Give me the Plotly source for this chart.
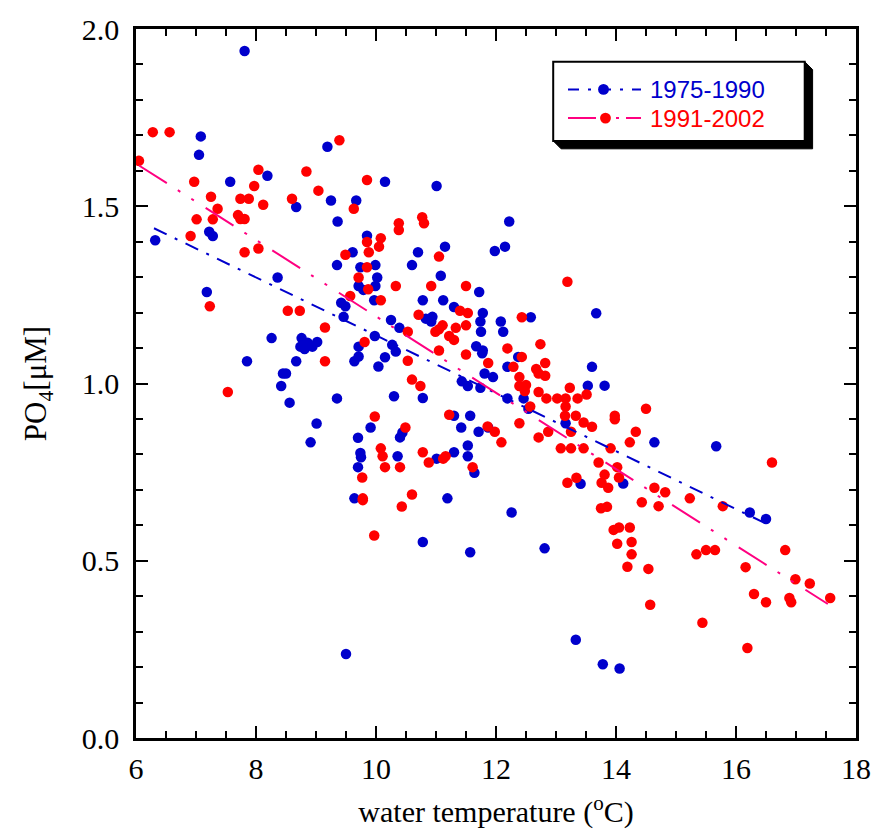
import plotly.graph_objects as go

# Water temperature (degC) and phosphate (uM), 1975-1990
temp_7590 = [7.81, 7.08, 7.05, 9.19, 8.19, 7.57, 10.15, 11.01, 8.67, 9.25, 9.67, 9.36, 7.22, 7.28, 6.32,
             9.85, 9.61, 11.15, 10.70, 10.60, 9.35, 9.74, 9.99, 8.36, 10.02, 9.71, 9.79, 9.99, 9.97, 11.72,
             11.08, 10.78, 11.12, 11.30, 11.78, 7.18, 9.42, 9.49, 9.46, 10.25, 10.94, 10.83, 10.92, 12.22,
             11.98, 12.15, 11.74, 11.75, 12.08, 12.12, 12.58, 13.67, 10.39, 10.33, 11.67, 11.78, 11.77,
             12.37, 11.81, 11.95, 12.19, 13.60, 11.43, 11.53, 11.74, 13.53, 13.81, 12.19, 12.46, 12.54,
             11.30, 11.57, 9.98, 10.27, 10.15, 10.04, 10.30, 10.78, 13.16, 13.41, 12.26, 11.71, 11.87,
             11.42, 11.53, 11.53, 11.64, 11.30, 11.01, 10.36, 9.91, 10.40, 10.44, 11.19, 9.64, 8.26, 8.76,
             8.86, 8.74, 8.81, 8.94, 9.02, 9.71, 9.71, 9.64, 7.85, 8.67, 8.45, 8.50, 8.42, 8.56, 9.35, 9.01,
             8.91, 9.70, 9.74, 9.75, 9.70, 9.50, 10.78, 11.57, 12.81, 13.33, 13.78, 14.06, 14.12, 14.64,
             15.67, 16.23, 16.50]
po4_7590 = [1.938, 1.697, 1.645, 1.668, 1.586, 1.569, 1.569, 1.557, 1.498, 1.516, 1.516, 1.457, 1.428, 1.416,
            1.404, 1.417, 1.370, 1.386, 1.370, 1.334, 1.334, 1.328, 1.334, 1.299, 1.299, 1.275, 1.264, 1.275,
            1.235, 1.258, 1.304, 1.235, 1.235, 1.216, 1.199, 1.258, 1.228, 1.218, 1.188, 1.179, 1.188, 1.183,
            1.175, 1.457, 1.374, 1.386, 1.175, 1.146, 1.175, 1.146, 1.187, 1.198, 1.157, 1.090, 1.105, 1.093,
            1.085, 1.075, 1.028, 1.018, 1.047, 1.047, 1.006, 0.993, 0.988, 0.994, 0.994, 0.958, 0.958, 0.929,
            0.909, 0.909, 1.134, 1.109, 1.074, 1.048, 0.964, 0.959, 0.888, 0.717, 0.636, 0.864, 0.876, 0.876,
            0.825, 0.795, 0.748, 0.806, 0.788, 0.795, 0.876, 0.848, 0.862, 0.676, 0.676, 1.128, 1.128, 1.115,
            1.104, 1.097, 1.104, 1.117, 1.104, 1.076, 1.063, 1.063, 1.063, 1.028, 1.028, 0.993, 0.946, 0.958,
            0.887, 0.834, 0.847, 0.804, 0.792, 0.764, 0.237, 0.553, 0.524, 0.535, 0.277, 0.208, 0.196, 0.718,
            0.834, 0.823, 0.636, 0.618]

# Water temperature (degC) and phosphate (uM), 1991-2002
temp_9102 = [6.28, 6.56, 6.05, 9.39, 8.04, 8.84, 6.97, 9.85, 7.97, 9.04, 8.12, 7.25, 7.74, 7.88, 8.60, 9.63,
             7.36, 7.28, 7.01, 7.70, 7.74, 7.81, 10.38, 10.38, 10.77, 10.80, 6.91, 9.85, 10.08, 10.05, 9.88,
             9.49, 11.05, 8.04, 7.81, 9.85, 9.71, 9.87, 10.33, 10.92, 11.50, 9.57, 10.08, 11.40, 11.53, 7.23,
             8.53, 8.73, 10.71, 13.19, 12.43, 11.50, 11.33, 11.11, 11.05, 10.99, 11.22, 11.30, 10.53, 11.05,
             10.53, 11.50, 12.19, 12.43, 12.74, 11.87, 12.29, 12.82, 12.67, 12.71, 12.82, 12.39, 12.39, 12.50,
             12.48, 12.71, 13.23, 13.51, 13.36, 12.84, 13.02, 13.16, 13.16, 12.57, 14.50, 13.98, 13.33, 13.15,
             11.22, 9.15, 9.81, 9.15, 7.53, 10.60, 10.74, 13.46, 13.60, 13.25, 12.87, 13.08, 13.25, 13.46,
             12.71, 13.91, 13.71, 13.81, 13.76, 13.87, 13.19, 13.34, 13.75, 13.85, 12.39, 12.09, 11.86, 11.98,
             11.61, 11.12, 11.16, 10.88, 10.78, 10.40, 10.15, 10.11, 10.08, 9.98, 10.49, 10.60, 10.43, 9.78,
             9.78, 9.77, 9.97, 13.96, 13.98, 14.33, 14.23, 14.02, 16.60, 14.05, 14.64, 14.82, 15.23, 14.43,
             14.71, 15.78, 14.05, 14.23, 14.02, 14.26, 14.26, 14.19, 14.54, 15.34, 15.50, 15.65, 16.82, 16.16,
             16.99, 17.23, 16.30, 16.50, 16.89, 16.92, 17.57, 14.57, 15.44, 16.19]
po4_9102 = [1.709, 1.709, 1.628, 1.686, 1.603, 1.598, 1.569, 1.574, 1.557, 1.544, 1.504, 1.527, 1.521, 1.521,
            1.521, 1.493, 1.493, 1.463, 1.463, 1.475, 1.464, 1.464, 1.452, 1.433, 1.469, 1.452, 1.416, 1.399,
            1.410, 1.386, 1.370, 1.363, 1.358, 1.381, 1.370, 1.328, 1.299, 1.266, 1.275, 1.275, 1.275, 1.247,
            1.235, 1.205, 1.199, 1.218, 1.205, 1.205, 1.194, 1.287, 1.187, 1.164, 1.157, 1.164, 1.153, 1.146,
            1.134, 1.123, 1.146, 1.093, 1.064, 1.082, 1.099, 1.075, 1.111, 1.058, 1.047, 1.058, 1.041, 1.028,
            1.022, 1.018, 0.993, 0.996, 0.979, 0.976, 0.988, 0.969, 0.958, 0.958, 0.958, 0.958, 0.935, 0.935,
            0.929, 0.909, 0.909, 0.909, 0.912, 1.158, 1.117, 1.063, 0.976, 1.011, 0.993, 0.890, 0.878, 0.864,
            0.864, 0.817, 0.817, 0.817, 0.848, 0.817, 0.777, 0.743, 0.720, 0.706, 0.720, 0.734, 0.648, 0.652,
            0.888, 0.834, 0.879, 0.864, 0.764, 0.788, 0.795, 0.777, 0.806, 0.764, 0.764, 0.795, 0.817, 0.907,
            0.876, 0.687, 0.653, 0.676, 0.671, 0.735, 0.571, 0.587, 0.899, 0.864, 0.834, 0.764, 0.777, 0.735,
            0.706, 0.693, 0.676, 0.665, 0.654, 0.654, 0.594, 0.594, 0.548, 0.553, 0.518, 0.483, 0.477, 0.518,
            0.530, 0.530, 0.530, 0.482, 0.448, 0.436, 0.406, 0.383, 0.395, 0.383, 0.395, 0.376, 0.325, 0.254]

# Linear trend lines (end points)
trend_t_7590 = [6.30, 16.45]
trend_p_7590 = [1.438, 0.609]
trend_t_9102 = [6.05, 17.53]
trend_p_9102 = [1.615, 0.378]

x_ticks = [6, 8, 10, 12, 14, 16, 18]
y_ticks = [0.0, 0.5, 1.0, 1.5, 2.0]
series_names = ["1975-1990", "1991-2002"]

BLUE = "#0000CC"
RED = "#FF0000"
PINK = "#FF0080"
W, H = 883, 836
ML, MR, MT, MB = 136, 17, 26, 94


def fx(p):
    return (p - ML) / (W - ML - MR)


def fy(p):
    return (H - MB - p) / (H - MT - MB)


fig = go.Figure()
fig.add_trace(go.Scatter(x=temp_7590, y=po4_7590, mode="markers", name=series_names[0],
                         marker=dict(size=10.5, color=BLUE, line=dict(width=0)), showlegend=False))
fig.add_trace(go.Scatter(x=temp_9102, y=po4_9102, mode="markers", name=series_names[1],
                         marker=dict(size=10.5, color=RED, line=dict(width=0)), showlegend=False))
fig.add_trace(go.Scatter(x=trend_t_7590, y=trend_p_7590, mode="lines", showlegend=False,
                         line=dict(color=BLUE, width=2, dash="14px,9px,3px,9px")))
fig.add_trace(go.Scatter(x=trend_t_9102, y=trend_p_9102, mode="lines", showlegend=False,
                         line=dict(color=PINK, width=2, dash="33px,13px,3px,13px,3px,14px")))

serif = "Liberation Serif"
axis_common = dict(
    showgrid=False, zeroline=False, showline=True, linecolor="black", linewidth=2.5,
    mirror="ticks", ticks="inside", ticklen=12, tickwidth=2, tickcolor="black",
    tickfont=dict(family=serif, size=30, color="black"),
)

fig.update_xaxes(range=[6, 18], tickvals=x_ticks, ticktext=[str(v) for v in x_ticks],
                 minor=dict(dtick=0.5, ticks="inside", ticklen=7, tickwidth=2, tickcolor="black"),
                 ticklabelstandoff=2,
                 title=dict(text="water temperature (<sup>o</sup>C)",
                            font=dict(family=serif, size=30, color="black"), standoff=18),
                 **axis_common)
fig.update_yaxes(range=[0, 2], tickvals=y_ticks, ticktext=["%.1f" % v for v in y_ticks],
                 minor=dict(dtick=0.1, ticks="inside", ticklen=7, tickwidth=2, tickcolor="black"),
                 ticklabelstandoff=8,
                 title=dict(text="PO<sub>4</sub>[μM]",
                            font=dict(family=serif, size=31, color="black"), standoff=26),
                 **axis_common)

# Legend box with drop shadow
shapes = []
bx0, by0, bx1, by1, sh = 559, 59, 814, 139, 8
shadow_path = "M {} {} L {} {} L {} {} L {} {} L {} {} L {} {} Z".format(
    fx(bx1), fy(by0), fx(bx1 + sh), fy(by0 + sh), fx(bx1 + sh), fy(by1 + sh),
    fx(bx0 + sh), fy(by1 + sh), fx(bx0), fy(by1), fx(bx1), fy(by1))
shapes.append(dict(type="path", xref="paper", yref="paper", path=shadow_path,
                   fillcolor="black", line=dict(color="black", width=1)))
shapes.append(dict(type="rect", xref="paper", yref="paper", x0=fx(bx0), x1=fx(bx1), y0=fy(by0), y1=fy(by1),
                   fillcolor="white", line=dict(color="black", width=2)))

rows = [(87, BLUE, BLUE, "11px,9px,3px,9px", 610),
        (116, PINK, RED, "28px,10px,3px,7px,3px,7px", 612)]
annotations = []
for (yy, lc, mc, dash, mx), name in zip(rows, series_names):
    shapes.append(dict(type="line", xref="paper", yref="paper", x0=fx(574), x1=fx(648), y0=fy(yy), y1=fy(yy),
                       line=dict(color=lc, width=2, dash=dash)))
    shapes.append(dict(type="circle", xref="paper", yref="paper", x0=fx(mx - 5.5), x1=fx(mx + 5.5),
                       y0=fy(yy + 5.5), y1=fy(yy - 5.5), fillcolor=mc, line=dict(width=0)))
    annotations.append(dict(xref="paper", yref="paper", x=fx(655), y=fy(yy), text=name, showarrow=False,
                            xanchor="left", yanchor="middle",
                            font=dict(family="Liberation Sans", size=24, color=mc)))

fig.update_layout(
    width=W, height=H, autosize=False,
    margin=dict(l=ML, r=MR, t=MT, b=MB),
    paper_bgcolor="white", plot_bgcolor="white",
    shapes=shapes, annotations=annotations, showlegend=False,
)

fig.write_html("out.html")
